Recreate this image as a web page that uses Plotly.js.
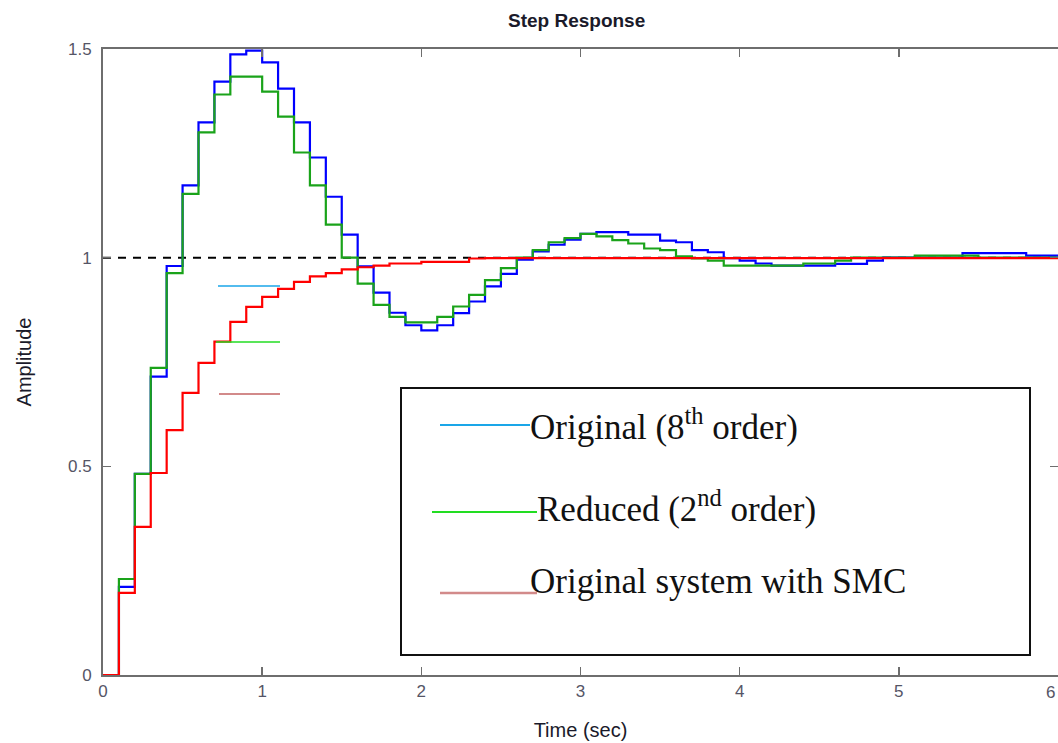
<!DOCTYPE html>
<html>
<head>
<meta charset="utf-8">
<script src="https://cdn.plot.ly/plotly-3.0.1.min.js"></script>
<style>
  html, body { margin: 0; padding: 0; background: #ffffff; }
  #chart { width: 1058px; height: 743px; }
</style>
</head>
<body>
<div id="chart"></div>
<script>
// Sample times (s), sample period 0.1 s
const time = [0.0,0.1,0.2,0.3,0.4,0.5,0.6,0.7,0.8,0.9,1.0,1.1,1.2,1.3,1.4,1.5,1.6,1.7,1.8,1.9,2.0,2.1,2.2,2.3,2.4,2.5,2.6,2.7,2.8,2.9,3.0,3.1,3.2,3.3,3.4,3.5,3.6,3.7,3.8,3.9,4.0,4.1,4.2,4.3,4.4,4.5,4.6,4.7,4.8,4.9,5.0,5.1,5.2,5.3,5.4,5.5,5.6,5.7,5.8,5.9,6.0];

// Original (8th order)
const original8 = [0,0.211,0.482,0.715,0.980,1.173,1.324,1.422,1.487,1.496,1.468,1.405,1.324,1.240,1.146,1.055,0.979,0.916,0.868,0.838,0.826,0.838,0.867,0.895,0.931,0.961,0.995,1.015,1.031,1.043,1.057,1.061,1.061,1.055,1.055,1.041,1.037,1.018,1.013,0.999,0.993,0.986,0.981,0.981,0.981,0.981,0.985,0.985,0.993,1.000,1.000,1.000,1.000,1.000,1.011,1.011,1.011,1.011,1.005,1.005,1.005];

// Reduced (2nd order)
const reduced2 = [0,0.230,0.482,0.736,0.963,1.153,1.300,1.391,1.434,1.434,1.398,1.338,1.252,1.173,1.079,1.000,0.938,0.887,0.858,0.845,0.845,0.858,0.883,0.911,0.946,0.975,1.000,1.018,1.037,1.047,1.057,1.051,1.042,1.034,1.022,1.018,1.003,0.998,0.993,0.981,0.981,0.981,0.981,0.981,0.986,0.986,0.993,1.000,1.000,1.000,1.000,1.005,1.005,1.005,1.005,1.000,1.000,1.000,1.000,1.000,1.000];

// Original system with SMC
const withSMC = [0,0.197,0.355,0.484,0.587,0.676,0.748,0.799,0.846,0.882,0.906,0.925,0.942,0.955,0.963,0.972,0.977,0.981,0.986,0.986,0.990,0.990,0.990,0.998,0.999,0.999,0.999,0.999,0.999,0.999,0.999,0.999,0.999,0.999,0.999,0.999,0.999,0.999,0.999,0.999,0.999,0.999,0.999,0.999,0.999,0.999,0.999,0.999,0.999,0.999,0.999,0.999,0.999,0.999,0.999,0.999,0.999,0.999,0.999,0.999,0.999];

// Steady-state reference
const steadyTime = [0, 6];
const steadyValue = [1, 1];

// Axis ticks
const xTicks = [0,1,2,3,4,5,6];
const xTickLabels = ["0","1","2","3","4","5","6"];
const yTicks = [0,0.5,1,1.5];
const yTickLabels = ["0","0.5","1","1.5"];

// Legend labels
const legendLabels = ["Original (8<sup>th</sup> order)", "Reduced (2<sup>nd</sup> order)", "Original system with SMC"];
const legendColors = ["#1aa6e8", "#22dd22", "#d28a8a"];

const traces = [
  {x: steadyTime, y: steadyValue, mode: 'lines', line: {color: '#000000', width: 2, dash: '8px,7px'}, hoverinfo: 'skip'},
  {x: time, y: original8, mode: 'lines', line: {color: '#0000ff', width: 2.2, shape: 'hv'}},
  {x: time, y: reduced2, mode: 'lines', line: {color: '#1aa31a', width: 2.2, shape: 'hv'}},
  {x: time, y: withSMC, mode: 'lines', line: {color: '#ff0000', width: 2.2, shape: 'hv'}}
];

const sans = 'Liberation Sans, Arial, sans-serif';
const axisFont = {family: sans, size: 17, color: '#555566'};

// Legend box (pasted-in image style), in paper coordinates of the plot area
const L = 103, R = 1058, T = 49, B = 675;
function px(x) { return (x - L) / (R - L); }
function py(y) { return (B - y) / (B - T); }

const shapes = [
  {type: 'rect', xref: 'paper', yref: 'paper', x0: px(401), x1: px(1030), y0: py(655), y1: py(388), line: {color: '#111111', width: 2}, fillcolor: 'rgba(255,255,255,1)', layer: 'above'},
  {type: 'line', xref: 'paper', yref: 'paper', x0: px(440), x1: px(530), y0: py(425), y1: py(425), line: {color: legendColors[0], width: 2}},
  {type: 'line', xref: 'paper', yref: 'paper', x0: px(432), x1: px(537), y0: py(512), y1: py(512), line: {color: legendColors[1], width: 2}},
  {type: 'line', xref: 'paper', yref: 'paper', x0: px(440), x1: px(537), y0: py(593), y1: py(593), line: {color: legendColors[2], width: 2.5}},
  // stray legend remnants inside the axes
  {type: 'line', xref: 'paper', yref: 'paper', x0: px(218), x1: px(280), y0: py(286), y1: py(286), line: {color: legendColors[0], width: 1.6}},
  {type: 'line', xref: 'paper', yref: 'paper', x0: px(216), x1: px(280), y0: py(342), y1: py(342), line: {color: legendColors[1], width: 1.6}},
  {type: 'line', xref: 'paper', yref: 'paper', x0: px(219), x1: px(280), y0: py(394), y1: py(394), line: {color: legendColors[2], width: 1.8}}
];

const legendFont = {family: 'Liberation Serif, Times New Roman, serif', size: 35, color: '#111111'};
const annotations = [
  {xref: 'paper', yref: 'paper', x: px(528), y: py(424), xanchor: 'left', yanchor: 'middle', text: legendLabels[0], showarrow: false, font: legendFont},
  {xref: 'paper', yref: 'paper', x: px(535), y: py(506), xanchor: 'left', yanchor: 'middle', text: legendLabels[1], showarrow: false, font: legendFont},
  {xref: 'paper', yref: 'paper', x: px(528), y: py(581), xanchor: 'left', yanchor: 'middle', text: legendLabels[2], showarrow: false, font: legendFont},
  // last x tick label, tucked against the right edge of the figure
  {xref: 'x', yref: 'paper', x: xTicks[6], y: 0, yanchor: 'top', xanchor: 'right', xshift: -1, yshift: -6, text: xTickLabels[6], showarrow: false, font: axisFont}
];

const layout = {
  width: 1058, height: 743,
  margin: {l: 103, r: 0, t: 49, b: 68},
  paper_bgcolor: '#ffffff', plot_bgcolor: '#ffffff',
  showlegend: false,
  title: {text: 'Step Response', x: 0.545, xanchor: 'center', y: 0.972, yanchor: 'middle',
          font: {family: sans, size: 19, color: '#1a1a2a', weight: 'bold'}},
  xaxis: {
    range: [0, 6], tickvals: xTicks.slice(0, 6), ticktext: xTickLabels.slice(0, 6),
    showline: true, linecolor: '#6e6e6e', linewidth: 2, mirror: 'ticks',
    ticks: 'inside', ticklen: 8, tickwidth: 1.5, tickcolor: '#6e6e6e',
    showgrid: false, zeroline: false, tickfont: axisFont, ticklabelstandoff: 0,
    title: {text: 'Time (sec)', font: {family: sans, size: 20, color: '#1a1a2a'}, standoff: 23}
  },
  yaxis: {
    range: [0, 1.5], tickvals: yTicks, ticktext: yTickLabels,
    showline: true, linecolor: '#6e6e6e', linewidth: 2, mirror: 'ticks',
    ticks: 'inside', ticklen: 8, tickwidth: 1.5, tickcolor: '#6e6e6e',
    showgrid: false, zeroline: false, tickfont: axisFont, ticklabelstandoff: 6,
    title: {text: 'Amplitude', font: {family: sans, size: 20, color: '#1a1a2a'}, standoff: 31}
  },
  shapes: shapes,
  annotations: annotations
};

Plotly.newPlot('chart', traces, layout, {displayModeBar: false, staticPlot: true});
</script>
</body>
</html>
